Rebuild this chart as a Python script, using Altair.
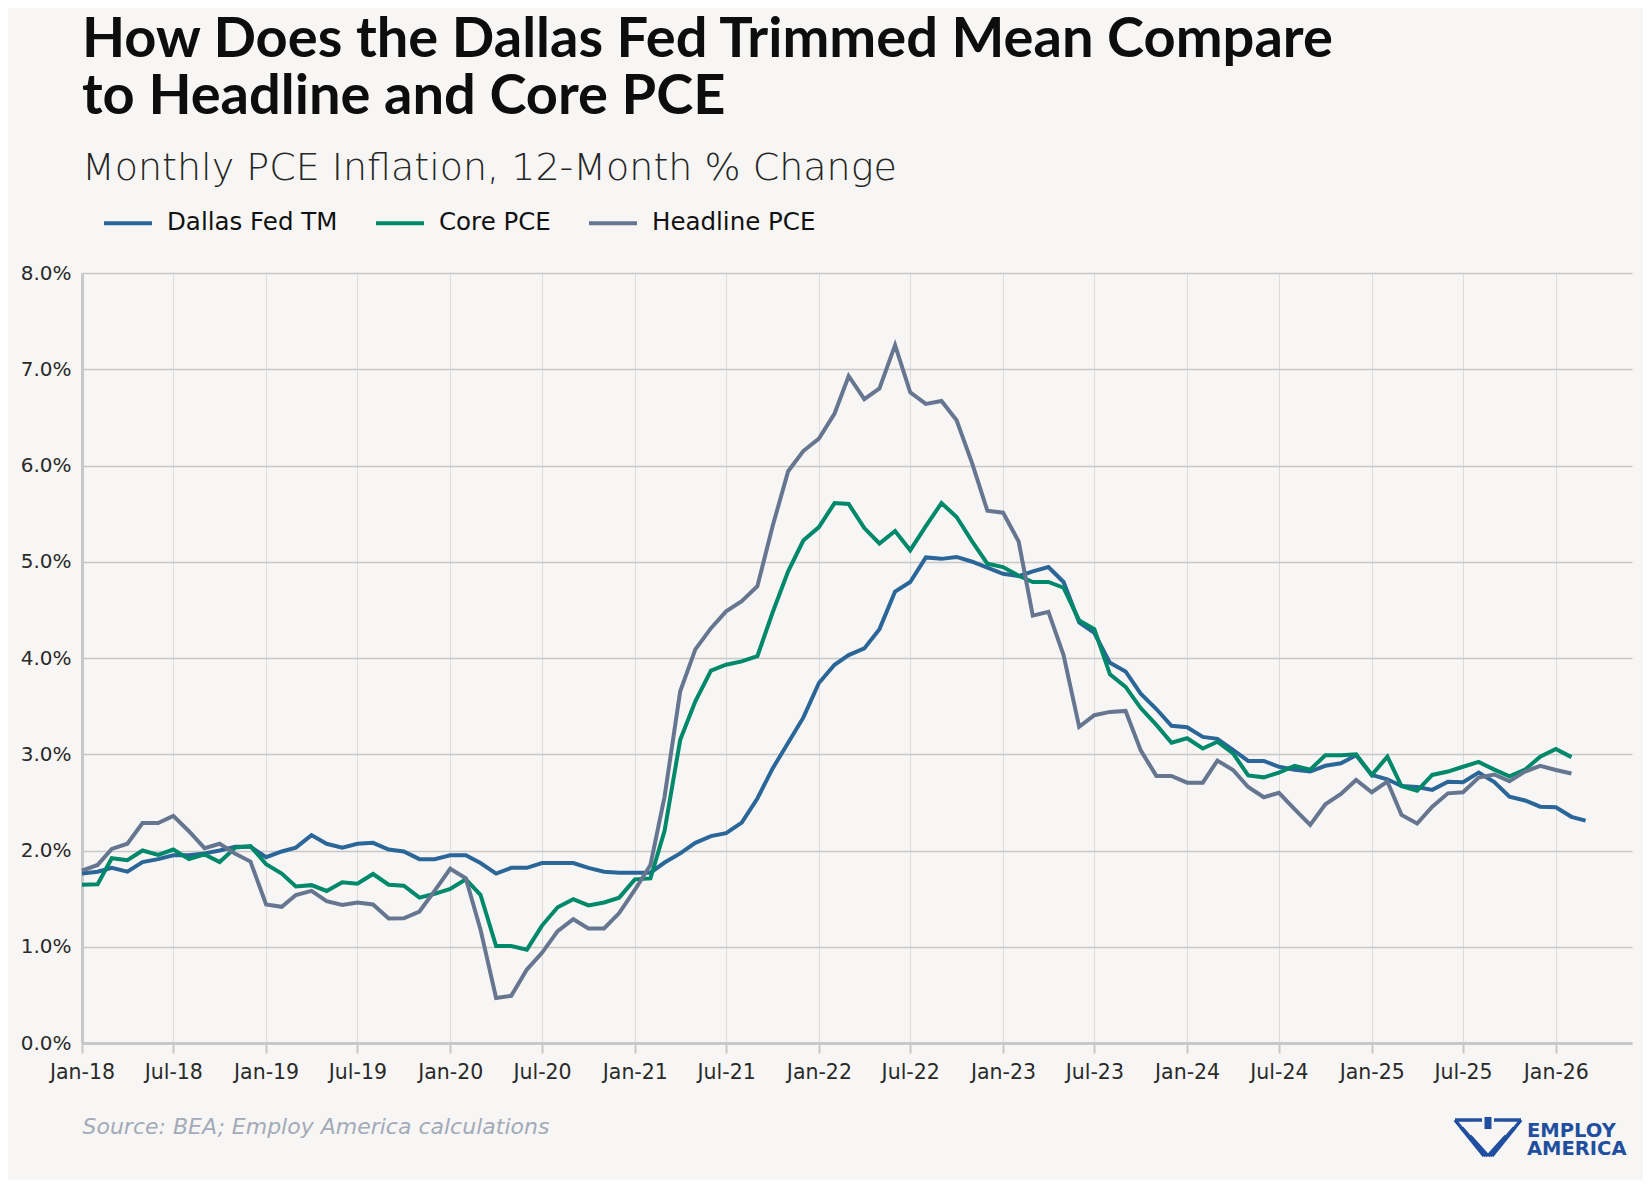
import altair as alt
import pandas as pd

# ---- data (12-month % change, monthly from Jan-2018) ----
dallas_tm = [1.76, 1.78, 1.82, 1.78, 1.88, 1.91, 1.95, 1.95, 1.97, 2.00, 2.04, 2.04,
             1.93, 1.99, 2.03, 2.16, 2.07, 2.03, 2.07, 2.08, 2.01, 1.99, 1.91, 1.91,
             1.95, 1.95, 1.87, 1.76, 1.82, 1.82, 1.87, 1.87, 1.87, 1.82, 1.78, 1.77,
             1.77, 1.77, 1.875, 1.97, 2.08, 2.15, 2.18, 2.29, 2.54, 2.85, 3.12, 3.38,
             3.74, 3.93, 4.03, 4.10, 4.30, 4.69, 4.79, 5.045, 5.03, 5.05, 5.00, 4.94,
             4.875, 4.85, 4.90, 4.945, 4.79, 4.37, 4.26, 3.95, 3.86, 3.63, 3.47, 3.295,
             3.28, 3.18, 3.16, 3.045, 2.93, 2.93, 2.87, 2.84, 2.82, 2.88, 2.906, 2.99,
             2.785, 2.74, 2.67, 2.66, 2.63, 2.715, 2.71, 2.81, 2.71, 2.56, 2.52, 2.455,
             2.45, 2.35, 2.31]
core_pce = [1.645, 1.65, 1.92, 1.90, 2.00, 1.955, 2.01, 1.91, 1.96, 1.88, 2.03, 2.045,
            1.857, 1.76, 1.627, 1.64, 1.58, 1.67, 1.655, 1.756, 1.645, 1.634, 1.51, 1.55,
            1.60, 1.70, 1.54, 1.007, 1.007, 0.97, 1.22, 1.41, 1.495, 1.43, 1.46, 1.51,
            1.70, 1.71, 2.205, 3.15, 3.55, 3.87, 3.93, 3.965, 4.02, 4.47, 4.90, 5.22,
            5.36, 5.61, 5.60, 5.35, 5.19, 5.32, 5.12, 5.37, 5.61, 5.465, 5.21, 4.98,
            4.945, 4.855, 4.79, 4.79, 4.73, 4.39, 4.30, 3.83, 3.70, 3.48, 3.305, 3.12,
            3.166, 3.06, 3.13, 3.01, 2.78, 2.76, 2.81, 2.88, 2.84, 2.99, 2.99, 3.00,
            2.785, 2.975, 2.67, 2.62, 2.785, 2.82, 2.87, 2.92, 2.84, 2.77, 2.84, 2.975,
            3.055, 2.97]
headline_pce = [1.79, 1.85, 2.017, 2.07, 2.286, 2.286, 2.36, 2.20, 2.024, 2.07, 1.965, 1.885,
                1.44, 1.415, 1.537, 1.58, 1.474, 1.435, 1.46, 1.44, 1.293, 1.296, 1.366, 1.58,
                1.81, 1.71, 1.18, 0.467, 0.49, 0.763, 0.937, 1.163, 1.286, 1.19, 1.19, 1.35,
                1.59, 1.85, 2.56, 3.654, 4.09, 4.31, 4.485, 4.59, 4.745, 5.367, 5.94, 6.15,
                6.28, 6.54, 6.93, 6.69, 6.80, 7.25, 6.76, 6.64, 6.67, 6.47, 6.02, 5.53,
                5.51, 5.21, 4.44, 4.48, 4.03, 3.285, 3.406, 3.44, 3.45, 3.04, 2.775, 2.775,
                2.705, 2.705, 2.934, 2.837, 2.66, 2.553, 2.60, 2.43, 2.265, 2.48, 2.587, 2.733,
                2.605, 2.716, 2.37, 2.28, 2.456, 2.594, 2.605, 2.757, 2.79, 2.72, 2.82, 2.88,
                2.837, 2.80]

series_names = ["Dallas Fed TM", "Core PCE", "Headline PCE"]
series_colors = ["#2b6698", "#00886a", "#667690"]
months = pd.date_range("2018-01-01", periods=len(dallas_tm), freq="MS")

rows = []
for name, vals in zip(series_names, [dallas_tm, core_pce, headline_pce]):
    for d, v in zip(months, vals):
        rows.append({"date": d.strftime("%Y-%m-%dT00:00:00"), "series": name, "value": v})
df = pd.DataFrame(rows)

tick_dates = [alt.DateTime(year=y, month=m, date=1) for y in range(2018, 2027) for m in (1, 7)
              if not (y == 2026 and m == 7)]

BG = "#f7f6f4"
AXIS_GREY = "#c8c8c8"
FONT = "DejaVu Sans"

lines = alt.Chart(df).mark_line(strokeWidth=4, strokeJoin="miter", clip=False).encode(
    x=alt.X("date:T",
            scale=alt.Scale(domain=[alt.DateTime(year=2018, month=1, date=1),
                                    alt.DateTime(year=2026, month=6, date=1)]),
            axis=alt.Axis(values=tick_dates, format="%b-%y",
                          labelFont=FONT, labelFontSize=20.5, labelColor="#2a2a2a",
                          labelPadding=9, tickSize=10, tickWidth=2, tickColor=AXIS_GREY,
                          domainColor=AXIS_GREY, domainWidth=3,
                          grid=True, gridColor="#dcdcdc", gridWidth=1,
                          labelFlush=False, labelOverlap=False,
                          title="Source: BEA; Employ America calculations",
                          titleFont=FONT, titleFontStyle="italic", titleFontWeight="normal",
                          titleFontSize=22, titleColor="#a3aab8",
                          titleAnchor="start", titleAlign="left", titleBaseline="alphabetic",
                          titleX=0, titleY=90)),
    y=alt.Y("value:Q",
            scale=alt.Scale(domain=[0, 8], nice=False),
            axis=alt.Axis(values=[0, 1, 2, 3, 4, 5, 6, 7, 8],
                          labelExpr="format(datum.value, '.1f') + '%'",
                          labelFont=FONT, labelFontSize=20, labelColor="#2a2a2a",
                          labelPadding=11, ticks=False,
                          domainColor=AXIS_GREY, domainWidth=3,
                          grid=True, gridColor="#c8c8c8", gridWidth=1.5,
                          title=None)),
    color=alt.Color("series:N",
                    scale=alt.Scale(domain=series_names, range=series_colors),
                    legend=alt.Legend(title=None, orient="none", legendX=20, legendY=-76,
                                      direction="horizontal", symbolType="stroke",
                                      symbolSize=2304, symbolStrokeWidth=4,
                                      labelFont=FONT, labelFontSize=24.5, labelColor="#111111",
                                      labelLimit=500,
                                      labelOffset=13, columnPadding=30, padding=0)),
)

LOGO_BLUE = "#1f4f9e"
logo_text1 = alt.Chart(pd.DataFrame({"t": ["EMPLOY"]})).mark_text(
    font="DejaVu Sans", fontWeight="bold", fontSize=19.5, color=LOGO_BLUE,
    align="left", baseline="alphabetic").encode(text="t:N", x=alt.value(1445), y=alt.value(864))
logo_text2 = alt.Chart(pd.DataFrame({"t": ["AMERICA"]})).mark_text(
    font="DejaVu Sans", fontWeight="bold", fontSize=19.5, color=LOGO_BLUE,
    align="left", baseline="alphabetic").encode(text="t:N", x=alt.value(1445), y=alt.value(882))

wing_specs = [  # x, y, x2, y2 in pixels (decorative logo)
    (1373, 847, 1402, 883), (1380, 855, 1404, 883), (1388, 863, 1406, 883),
    (1439, 847, 1410, 883), (1432, 855, 1408, 883), (1424, 863, 1406, 883),
    (1373, 847, 1400, 847), (1412, 847, 1439, 847),
]
wings = [alt.Chart(pd.DataFrame({"k": [0]})).mark_rule(strokeWidth=3.5, color=LOGO_BLUE).encode(
    x=alt.value(a), y=alt.value(b), x2=alt.value(c), y2=alt.value(d)) for a, b, c, d in wing_specs]
shield = alt.Chart(pd.DataFrame({"k": [0]})).mark_rule(strokeWidth=7, color=LOGO_BLUE).encode(
    x=alt.value(1406), y=alt.value(844), y2=alt.value(856))

chart = alt.layer(lines, logo_text1, logo_text2, shield, *wings).properties(
    width=1550, height=770,
    title=alt.TitleParams(
        text=["How Does the Dallas Fed Trimmed Mean Compare", "to Headline and Core PCE"],
        subtitle="Monthly PCE Inflation, 12-Month % Change",
        anchor="start", frame="group", offset=8,
        font="Lato", fontSize=56, fontWeight="bold", color="#0d0d0d", lineHeight=57,
        subtitleFont=FONT, subtitleFontSize=38, subtitleFontWeight=200,
        subtitleColor="#262626", subtitlePadding=24),
    autosize=alt.AutoSizeParams(type="none"),
    padding={"left": 74, "top": 265, "right": 11, "bottom": 137},
).configure(background=BG).configure_view(stroke=None)

chart.save("out.html", embed_options={"renderer": "svg", "actions": False})
